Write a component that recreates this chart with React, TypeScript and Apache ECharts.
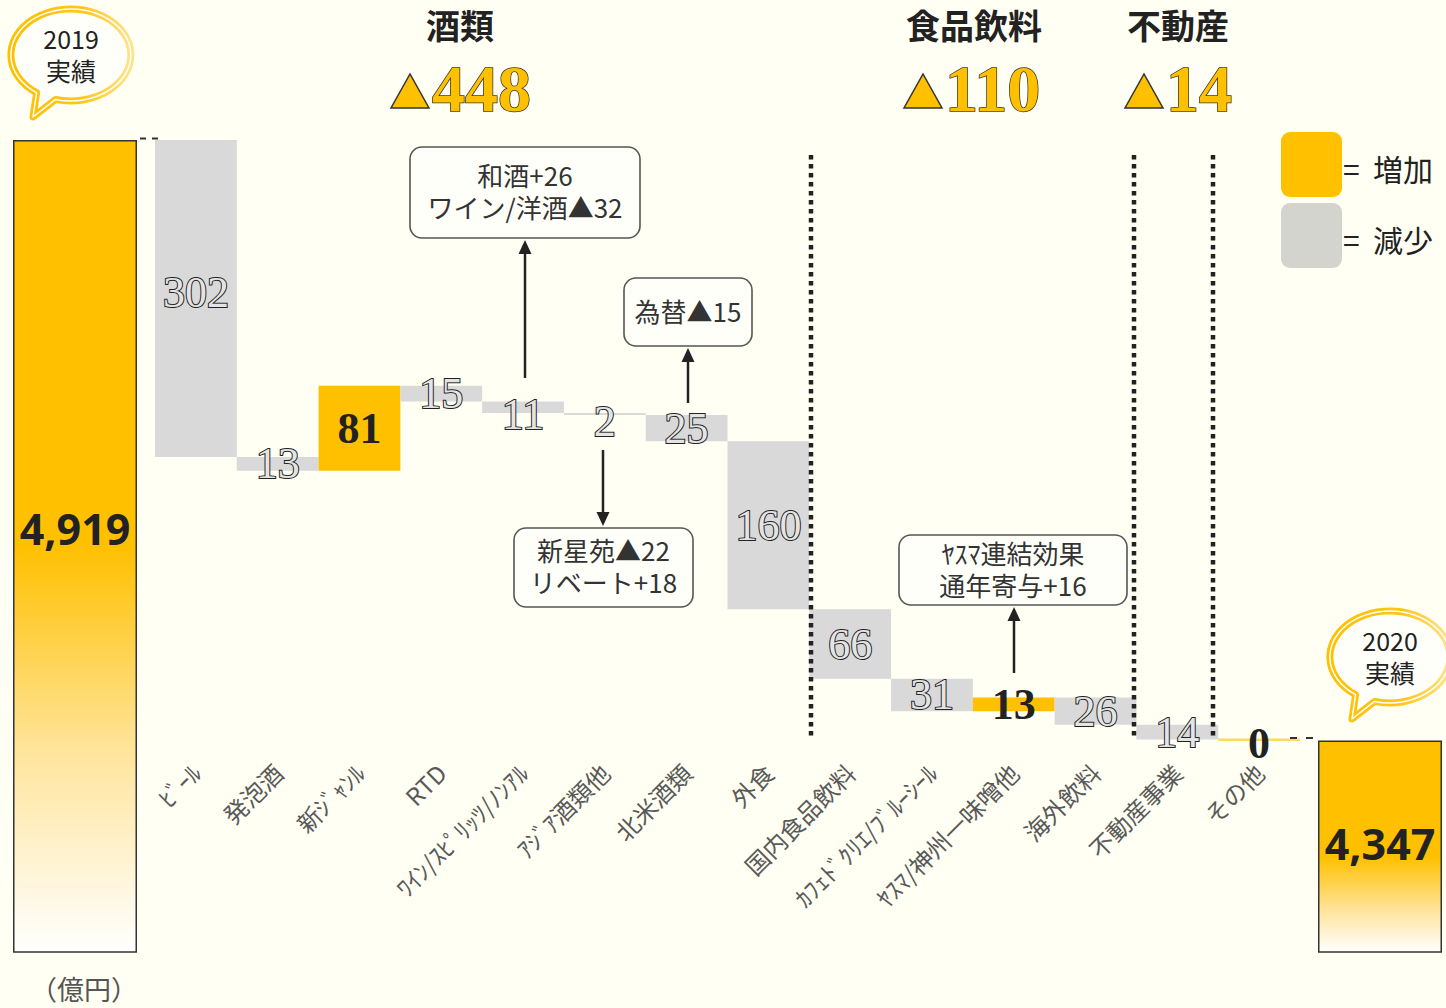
import { useEffect, useRef } from "react";
import * as echarts from "echarts";

// ---------- data ----------
const categories = [
  "ﾋﾞｰﾙ",
  "発泡酒",
  "新ｼﾞｬﾝﾙ",
  "RTD",
  "ﾜｲﾝ/ｽﾋﾟﾘｯﾂ/ﾉﾝｱﾙ",
  "ｱｼﾞｱ酒類他",
  "北米酒類",
  "外食",
  "国内食品飲料",
  "ｶﾌｪﾄﾞｸﾘｴ/ﾌﾞﾙｰｼｰﾙ",
  "ﾔｽﾏ/神州一味噌他",
  "海外飲料",
  "不動産事業",
  "その他",
];
const deltas = [-302, -13, 81, -15, -11, -2, -25, -160, -66, -31, 13, -26, -14, 0];
const startTotal = 4919;
const endTotal = 4347;
const startLabel = ["2019", "実績"];
const endLabel = ["2020", "実績"];
const segmentTitles = ["酒類", "食品飲料", "不動産"];
const segmentTotals = [448, 110, 14];
const notes = [
  ["和酒+26", "ワイン/洋酒▲32"],
  ["為替▲15"],
  ["新星苑▲22", "リベート+18"],
  ["ﾔｽﾏ連結効果", "通年寄与+16"],
];

// ---------- shapes ----------
const bubblePath = "M -15.5 44.4 A 60 46 0 1 0 -34.4 37.7 L -38 62 Z";
echarts.graphic.registerShape("bubble", echarts.graphic.extendPath(bubblePath, {}));

const ORANGE = "#FFC000";
const GRAY = "#D9D9D9";
const BG = "#FFFFF3";
const JP = '"Noto Sans CJK JP", "Noto Sans", sans-serif';
const SERIF = '"Liberation Serif", "DejaVu Serif", serif';

function txt(x: number, y: number, text: string, font: string, fill = "#222", align = "center", extra: any = {}) {
  return {
    type: "text",
    x,
    y,
    z: 20,
    style: {
      text,
      font,
      fill,
      align,
      textAlign: align,
      verticalAlign: "middle",
      textVerticalAlign: "middle",
      ...extra,
    },
  };
}

function arrow(x: number, y1: number, y2: number) {
  const dir = y2 > y1 ? 1 : -1;
  const headLen = 14;
  return [
    {
      type: "line",
      z: 15,
      shape: { x1: x, y1, x2: x, y2: y2 - dir * headLen + dir * 2 },
      style: { stroke: "#222", lineWidth: 2.5 },
    },
    {
      type: "polygon",
      z: 15,
      shape: { points: [[x - 6.5, y2 - dir * headLen], [x + 6.5, y2 - dir * headLen], [x, y2]] },
      style: { fill: "#222" },
    },
  ];
}

function box(x: number, y: number, w: number, h: number, lines: string[]) {
  const cy = y + h / 2 - 2;
  const lh = 32;
  const top = cy - ((lines.length - 1) * lh) / 2;
  return [
    {
      type: "rect",
      z: 14,
      shape: { x, y, width: w, height: h, r: 12 },
      style: { fill: "#FFFFFA", stroke: "#555", lineWidth: 1.6 },
    },
    ...lines.map((l, i) => txt(x + w / 2, top + i * lh, l, `26px ${JP}`, "#333", "center")),
  ];
}

function bubble(cx: number, cy: number, lines: string[]) {
  return [
    {
      type: "bubble",
      x: cx,
      y: cy,
      z: 12,
      style: {
        fill: "#FFFFFA",
        stroke: new echarts.graphic.LinearGradient(0, 0, 1, 0, [
          { offset: 0, color: "#FFC000" },
          { offset: 0.6, color: "#FFC61A" },
          { offset: 1, color: "#FFE38A" },
        ]),
        lineWidth: 7,
        lineJoin: "round",
      },
    },
    {
      type: "bubble",
      x: cx,
      y: cy,
      z: 13,
      style: { fill: null, stroke: "#FFFFFF", lineWidth: 1.5, lineJoin: "round" },
    },
    txt(cx, cy - 17, lines[0], `25px ${JP}`, "#222"),
    txt(cx, cy + 15, lines[1], `25px ${JP}`, "#222"),
  ];
}

function segmentHeader(cx: number, title: string, total: number, triX: number, numX: number) {
  return [
    txt(cx, 24, title, `bold 34px ${JP}`, "#222"),
    {
      type: "polygon",
      z: 20,
      shape: { points: [[triX, 108], [triX + 38, 108], [triX + 19, 74]] },
      style: { fill: ORANGE, stroke: "#333", lineWidth: 1.5 },
    },
    txt(numX, 88, String(total), `bold 66px ${SERIF}`, ORANGE, "left", { stroke: "#333", lineWidth: 1.5 }),
  ];
}

export default function App() {
  const ref = useRef<HTMLDivElement>(null);

  useEffect(() => {
    document.body.style.margin = "0";
    const chart = echarts.init(ref.current!, null, { renderer: "svg" });

    let running = startTotal;
    const wfData = deltas.map((d, i) => {
      const next = running + d;
      const low = Math.min(running, next);
      const high = Math.max(running, next);
      running = next;
      return [i, low, high, d];
    });

    const axisMin = startTotal - 812 / 1.05;
    const gridCommon = { top: 140, height: 812 };

    const totalLabel = {
      show: true,
      position: "inside",
      formatter: (p: any) => p.value.toLocaleString("en-US"),
      fontSize: 43,
      fontWeight: "bold",
      fontFamily: '"Noto Sans", sans-serif',
      color: "#222",
    };

    const option: any = {
      animation: false,
      backgroundColor: BG,
      grid: [
        { left: 155, width: 1145, ...gridCommon },
        { left: 13, width: 124, ...gridCommon },
        { left: 1318, width: 124, ...gridCommon },
      ],
      xAxis: [
        {
          type: "category",
          gridIndex: 0,
          data: categories,
          offset: -190,
          axisLine: { show: false },
          axisTick: { show: false },
          axisLabel: {
            rotate: 45,
            interval: 0,
            fontSize: 24,
            color: "#595959",
            fontFamily: JP,
            margin: 6,
          },
        },
        { type: "category", gridIndex: 1, data: [startLabel.join("")], show: false },
        { type: "category", gridIndex: 2, data: [endLabel.join("")], show: false },
      ],
      yAxis: [0, 1, 2].map((g) => ({
        type: "value",
        gridIndex: g,
        min: axisMin,
        max: startTotal,
        show: false,
        splitLine: { show: false },
      })),
      series: [
        {
          type: "custom",
          xAxisIndex: 0,
          yAxisIndex: 0,
          clip: false,
          encode: { x: 0, y: [1, 2] },
          data: wfData,
          renderItem: (_params: any, api: any) => {
            const idx = api.value(0);
            const low = api.value(1);
            const high = api.value(2);
            const d = api.value(3);
            const pTop = api.coord([idx, high]);
            const pBot = api.coord([idx, low]);
            const w = api.size([1, 0])[0];
            const x = pTop[0] - w / 2;
            const children: any[] = [];
            if (d === 0) {
              children.push({
                type: "rect",
                shape: { x, y: pTop[1] - 1, width: w, height: 2.5 },
                style: { fill: "#FFD966" },
              });
            } else {
              children.push({
                type: "rect",
                shape: { x, y: pTop[1], width: w, height: pBot[1] - pTop[1] },
                style: { fill: d > 0 ? ORANGE : GRAY },
              });
            }
            const ad = Math.abs(d);
            const cy = (pTop[1] + pBot[1]) / 2 + (ad > 0 && ad < 12 ? 7 : 0) + (ad === 0 ? 4 : 0) - (ad > 200 ? 6 : 0);
            const solid = d >= 0;
            children.push({
              type: "text",
              x: pTop[0],
              y: cy,
              z2: 10,
              style: solid
                ? {
                    text: String(ad),
                    font: `bold 44px ${SERIF}`,
                    fill: "#222",
                    align: "center",
                    verticalAlign: "middle",
                  }
                : {
                    text: String(ad),
                    font: `44px ${SERIF}`,
                    fill: "#E4E4E4",
                    stroke: "#222",
                    lineWidth: 2,
                    align: "center",
                    verticalAlign: "middle",
                  },
            });
            return { type: "group", children };
          },
        },
        {
          type: "bar",
          xAxisIndex: 1,
          yAxisIndex: 1,
          barWidth: 124,
          data: [startTotal],
          itemStyle: {
            borderColor: "#333",
            borderWidth: 1.5,
            color: new echarts.graphic.LinearGradient(0, 0, 0, 1, [
              { offset: 0, color: ORANGE },
              { offset: 0.5, color: ORANGE },
              { offset: 0.75, color: "#FFE49A" },
              { offset: 1, color: "#FFFFFF" },
            ]),
          },
          label: { ...totalLabel, offset: [0, -18] },
        },
        {
          type: "bar",
          xAxisIndex: 2,
          yAxisIndex: 2,
          barWidth: 124,
          data: [endTotal],
          itemStyle: {
            borderColor: "#333",
            borderWidth: 1.5,
            color: new echarts.graphic.LinearGradient(0, 0, 0, 1, [
              { offset: 0, color: ORANGE },
              { offset: 0.55, color: ORANGE },
              { offset: 0.8, color: "#FFE49A" },
              { offset: 1, color: "#FFFFFF" },
            ]),
          },
          label: { ...totalLabel, offset: [0, -3] },
        },
      ],
      graphic: {
        elements: [
          ...bubble(71, 55, startLabel),
          ...bubble(1390, 657, endLabel),
          ...segmentHeader(460, segmentTitles[0], segmentTotals[0], 391, 432),
          ...segmentHeader(974, segmentTitles[1], segmentTotals[1], 904, 945),
          ...segmentHeader(1178, segmentTitles[2], segmentTotals[2], 1125, 1166),
          ...[811, 1134, 1213].map((x) => ({
            type: "line",
            z: 16,
            shape: { x1: x, y1: 155, x2: x, y2: 738 },
            style: { stroke: "#222", lineWidth: 4.5, lineDash: [4.5, 4.5] },
          })),
          {
            type: "line",
            z: 16,
            shape: { x1: 140, y1: 138.5, x2: 158, y2: 138.5 },
            style: { stroke: "#333", lineWidth: 2, lineDash: [6, 6] },
          },
          {
            type: "line",
            z: 16,
            shape: { x1: 1290, y1: 738, x2: 1318, y2: 738 },
            style: { stroke: "#333", lineWidth: 2, lineDash: [7, 9] },
          },
          {
            type: "rect",
            z: 10,
            shape: { x: 1281, y: 132, width: 61, height: 65, r: 9 },
            style: { fill: ORANGE },
          },
          {
            type: "rect",
            z: 10,
            shape: { x: 1281, y: 203, width: 61, height: 65, r: 9 },
            style: { fill: "#D4D4CE" },
          },
          txt(1343, 168, "=  増加", `30px ${JP}`, "#222", "left"),
          txt(1343, 239, "=  減少", `30px ${JP}`, "#222", "left"),
          ...box(410, 147, 230, 91, notes[0]),
          ...arrow(525, 378, 240),
          ...box(624, 278, 128, 68, notes[1]),
          ...arrow(688, 403, 348),
          ...box(514, 528, 179, 79, notes[2]),
          ...arrow(603, 450, 526),
          ...box(899, 535, 228, 70, notes[3]),
          ...arrow(1014, 673, 607),
          txt(84, 988, "（億円）", `27px ${JP}`, "#555"),
        ],
      },
    };

    chart.setOption(option);
    return () => chart.dispose();
  }, []);

  return (
    <div
      ref={ref}
      style={{ position: "absolute", left: 0, top: 0, width: 1446, height: 1008 }}
    />
  );
}
